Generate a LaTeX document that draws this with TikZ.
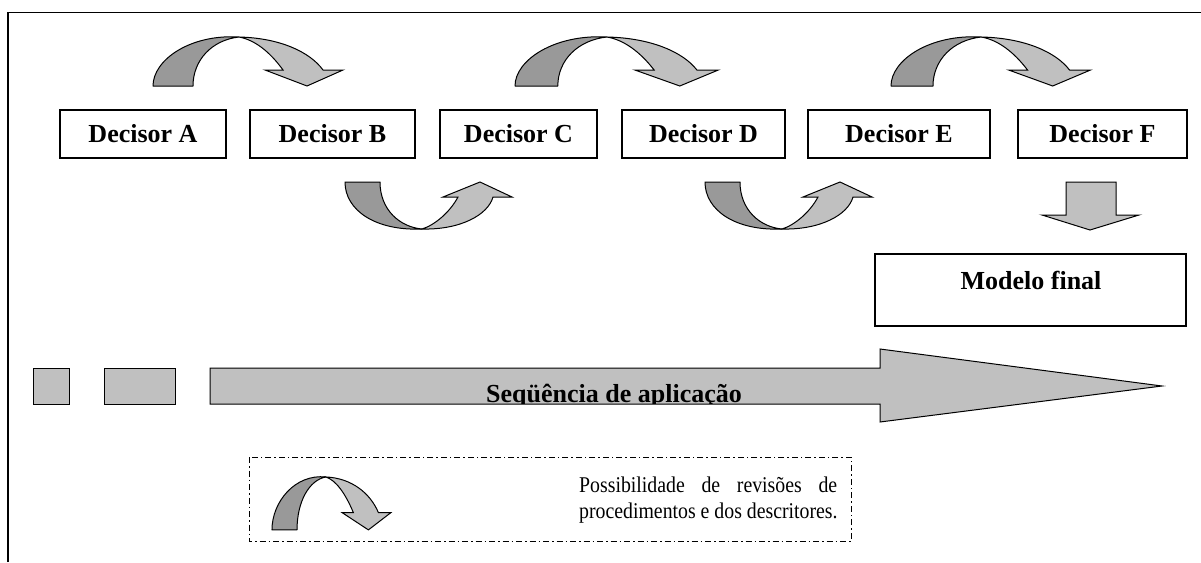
\documentclass[tikz,border=0pt]{standalone}
\usepackage{fontspec}
\setmainfont{Liberation Serif}
\newfontfamily\legfont[FakeStretch=0.88]{Liberation Serif}
\definecolor{darkg}{HTML}{999999}
\definecolor{lightg}{HTML}{C0C0C0}
\newcommand\curvtop{%
 \draw[lightarr] (239,37) .. controls (280,38) and (310,52) .. (323,70) -- (343,70) -- (307,86) -- (265,70) -- (283,70) .. controls (270,52) and (255,40) .. (239,37) -- cycle;
 \draw[darkarr] (153,86) -- (193,86) .. controls (193,60) and (212,40) .. (239,37) .. controls (190,34) and (153,60) .. (153,86) -- cycle;
}
\newcommand\curvbot{%
 \draw[lightarr] (422,229) .. controls (460,230) and (488,215) .. (493,197) -- (512,197) -- (480,182) -- (443,197) -- (458,197) .. controls (450,212) and (435,225) .. (422,229) -- cycle;
 \draw[darkarr] (345,182) -- (380,182) .. controls (380,210) and (400,227) .. (422,229) .. controls (375,231) and (345,210) .. (345,182) -- cycle;
}
\begin{document}
\begin{tikzpicture}[x=1pt,y=-1pt,
  frame/.style={line width=1.6pt},
  dbox/.style={draw, line width=1.3pt, minimum height=48pt, inner sep=0pt, font=\fontsize{26}{30}\selectfont\bfseries},
  bigfont/.style={font=\fontsize{26}{30}\selectfont\bfseries},
  lightarr/.style={draw, fill=lightg, line width=1pt, line join=miter},
  darkarr/.style={draw, fill=darkg, line width=1pt, line join=round},
  legbox/.style={draw, line width=1pt, dash pattern=on 6pt off 3pt on 1.5pt off 3pt}]
\useasboundingbox (0,0) rectangle (1201,562);
\draw[frame] (8,562) -- (8,12.5) -- (1201,12.5);
% decisor boxes
\node[dbox, minimum width=166pt] (A) at (143,134) {Decisor A};
\node[dbox, minimum width=165pt] (B) at (332.5,134) {Decisor B};
\node[dbox, minimum width=157pt] (C) at (518.5,134) {Decisor C};
\node[dbox, minimum width=163pt] (D) at (703.5,134) {Decisor D};
\node[dbox, minimum width=182pt] (E) at (899,134) {Decisor E};
\node[dbox, minimum width=169pt] (F) at (1102.5,134) {Decisor F};
% curved arrows
\curvtop
\begin{scope}[shift={(351.3,0)}, xscale=1.07]\curvtop\end{scope}
\begin{scope}[shift={(730.35,0)}, xscale=1.05]\curvtop\end{scope}
\curvbot
\begin{scope}[xshift=360pt]\curvbot\end{scope}
% down arrow
\draw[lightarr] (1066,182) -- (1116,182) -- (1116,215) -- (1139,215) -- (1090,230) -- (1042,215) -- (1066,215) -- cycle;
% final model
\node[draw, line width=1.3pt, minimum width=311pt, minimum height=72pt] (M) at (1030.5,290) {};
\node[bigfont, anchor=base] (Mt) at (1031,289) {Modelo final};
% sequence
\draw[lightarr] (33,368) rectangle (69,404);
\draw[lightarr] (104,368) rectangle (175,404);
\draw[lightarr] (210,368) -- (880,368) -- (880,349) -- (1162,386) -- (880,422) -- (880,404) -- (210,404) -- cycle;
\begin{scope}
\clip (210,368) rectangle (880,403.3);
\node[bigfont, anchor=base, inner sep=0pt] (seq) at (614,402) {Seqüência de aplicação};
\end{scope}
% legend
\draw[legbox] (249,457) rectangle (851,541);
\begin{scope}[shift={(176.2,437)}, xscale=0.626, yscale=1.08]\curvtop\end{scope}
\node[anchor=base west, align=left, inner sep=0pt, font=\fontsize{22.5}{26}\legfont] (leg) at (579,518) {\makebox[258pt][s]{Possibilidade de revisões de}\\procedimentos e dos descritores.};
\end{tikzpicture}
\end{document}
